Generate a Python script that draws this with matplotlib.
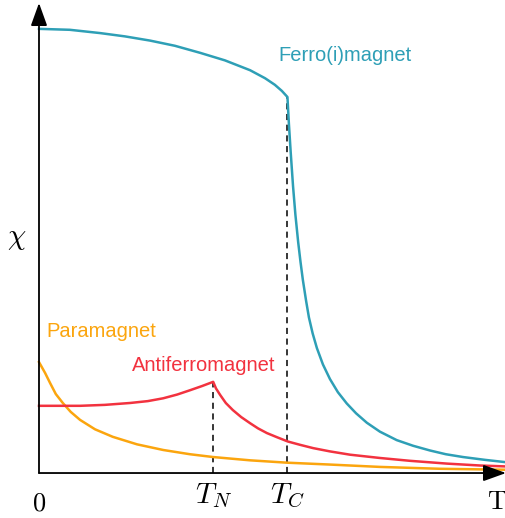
import matplotlib
matplotlib.use('Agg')
import matplotlib.pyplot as plt

plt.rcParams['mathtext.fontset'] = 'cm'
plt.rcParams['font.family'] = ['Liberation Sans', 'DejaVu Sans']

# susceptibility curves, arbitrary units (T on 0..10, chi on 0..10)
ferro_T = [0.0, 0.66, 1.31, 1.84, 2.38, 2.91, 3.45, 3.98, 4.52, 4.84, 5.05, 5.20, 5.32,
           5.35, 5.39, 5.44, 5.49, 5.55, 5.60, 5.65, 5.72, 5.78, 5.86, 5.95,
           6.08, 6.23, 6.40, 6.59, 6.79, 7.02, 7.30, 7.66, 8.01, 8.37, 8.71, 9.08,
           9.55, 10.0]
ferro_chi = [9.45, 9.43, 9.36, 9.29, 9.20, 9.09, 8.94, 8.78, 8.57, 8.40, 8.26, 8.13, 8.00,
             7.45, 6.82, 6.10, 5.50, 4.91, 4.49, 4.11, 3.66, 3.31, 2.97, 2.66,
             2.31, 2.00, 1.72, 1.48, 1.27, 1.07, 0.88, 0.70, 0.58, 0.48, 0.40, 0.34,
             0.28, 0.23]

antiferro_T = [0.0, 0.45, 0.88, 1.41, 1.95, 2.33, 2.66, 2.96, 3.23, 3.49, 3.73,
               3.79, 3.88, 4.00, 4.15, 4.33, 4.52, 4.69, 4.88, 5.10, 5.33, 5.59,
               5.87, 6.23, 6.66, 7.30, 7.94, 8.74, 9.44, 10.0]
antiferro_chi = [1.43, 1.43, 1.43, 1.45, 1.49, 1.53, 1.59, 1.67, 1.76, 1.85, 1.94,
                 1.80, 1.66, 1.49, 1.34, 1.19, 1.06, 0.95, 0.85, 0.76, 0.67, 0.60,
                 0.53, 0.46, 0.39, 0.32, 0.26, 0.20, 0.16, 0.14]

para_T = [0.0, 0.13, 0.24, 0.36, 0.51, 0.68, 0.88, 1.20, 1.58, 2.10, 2.66, 3.23,
          3.73, 4.52, 5.31, 6.23, 7.30, 8.59, 10.0]
para_chi = [2.36, 2.13, 1.91, 1.68, 1.49, 1.30, 1.13, 0.93, 0.77, 0.61, 0.49, 0.40,
            0.34, 0.27, 0.22, 0.18, 0.13, 0.09, 0.07]

T_N = 3.73
T_C = 5.32

teal = '#2e9fb6'
red = '#f2323f'
orange = '#fba50e'

fig = plt.figure(figsize=(5.06, 5.18), dpi=100)
ax = fig.add_axes([0, 0, 1, 1])
ax.set_xlim(-0.835, 10.0)
ax.set_ylim(-0.957, 10.064)
ax.axis('off')

# axes with arrow heads
arrow = dict(arrowstyle='-|>,head_length=1.0,head_width=0.36', lw=1.3, color='black',
             shrinkA=0, shrinkB=0, mutation_scale=14)
ax.annotate('', xy=(10.0, 0), xytext=(0, 0), arrowprops=arrow)
ax.annotate('', xy=(0, 10.0), xytext=(0, 0), arrowprops=arrow)

# dashed markers at the transition temperatures
chi_at_TN = antiferro_chi[antiferro_T.index(T_N)]
chi_at_TC = ferro_chi[ferro_T.index(T_C)]
ax.plot([T_N, T_N], [0, chi_at_TN], color='black', lw=1.1, ls=(0, (4, 3)))
ax.plot([T_C, T_C], [0, chi_at_TC], color='black', lw=1.1, ls=(0, (4, 3)))

ax.plot(para_T, para_chi, color=orange, lw=1.8)
ax.plot(antiferro_T, antiferro_chi, color=red, lw=1.8)
ax.plot(ferro_T, ferro_chi, color=teal, lw=1.8)

ax.text(5.12, 8.77, 'Ferro(i)magnet', color=teal, fontsize=14.5, va='baseline', ha='left')
ax.text(0.15, 2.89, 'Paramagnet', color=orange, fontsize=14.5, va='baseline', ha='left')
ax.text(1.98, 2.16, 'Antiferromagnet', color=red, fontsize=14.5, va='baseline', ha='left')

ax.text(0, -0.79, r'$0$', fontsize=19, ha='center', va='baseline')
ax.text(T_N, -0.64, r'$T_N$', fontsize=21, ha='center', va='baseline')
ax.text(T_C, -0.64, r'$T_C$', fontsize=21, ha='center', va='baseline')
ax.text(9.8, -0.77, r'$\mathrm{T}$', fontsize=19, ha='center', va='baseline')
ax.text(-0.47, 5.0, r'$\chi$', fontsize=21, ha='center', va='center')

fig.savefig('out.png', dpi=100)
